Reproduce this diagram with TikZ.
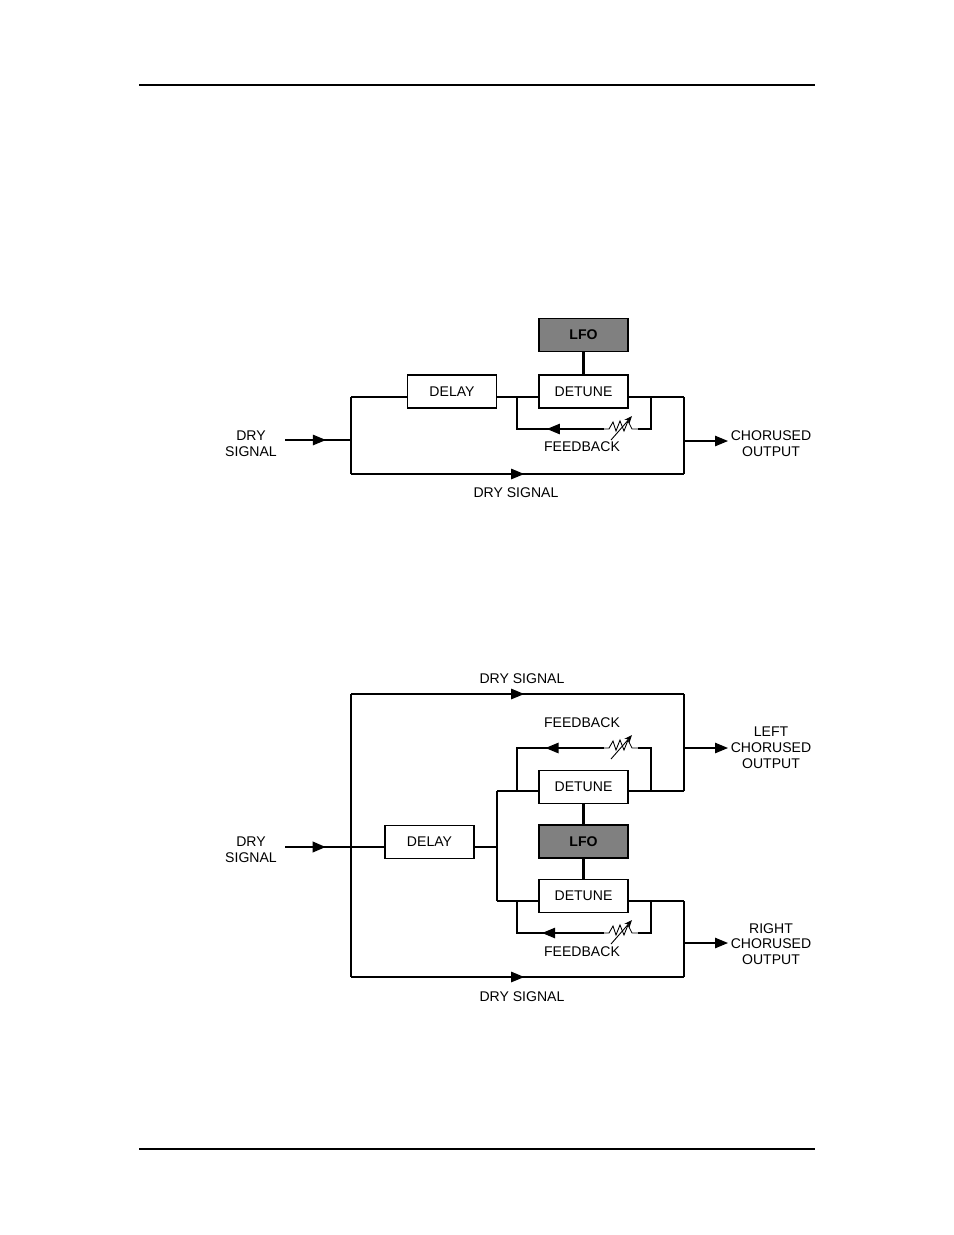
\documentclass[tikz,border=0pt]{standalone}
\usepackage{fontspec}
\setmainfont{Liberation Sans}
\usetikzlibrary{arrows.meta,decorations.markings}
\definecolor{ink}{RGB}{0,0,0}
\tikzset{
  >={Triangle[length=2.6mm,width=2.1mm]},
  block/.style={draw=ink,line width=0.9pt,minimum width=1.78cm,minimum height=0.66cm,
    inner sep=0pt,font=\fontsize{8}{9}\selectfont},
  lfo/.style={block,fill=ink!50,line width=1.1pt,font=\fontsize{8}{9}\selectfont\bfseries},
  sig/.style={draw=ink,line width=1.2pt},
  wire/.style={draw=ink,line width=0.6pt},
  tag/.style={font=\fontsize{8}{9}\selectfont,align=center,inner sep=0pt},
  mid arrow/.style={postaction={decorate},
    decoration={markings,mark=at position #1 with {\arrow{>}}}},
  % variable resistor
  pics/resistor/.style={code={
    \draw[wire,line width=0.5pt] (-17,0) -- (-12,0) -- (-8,-7) -- (-5,2) -- (-1,-8) -- (3,2) -- (7,-8) -- (11,0) -- (17,0);
    \draw[wire,line width=0.5pt,-{Stealth[length=1.6mm,width=1.3mm]}] (-10,11) -- (11,-13);
  }},
}
\begin{document}
\begin{tikzpicture}[x=0.02cm,y=-0.02cm]
  \useasboundingbox (0,0) rectangle (954,1235);
  % page rules
  \draw[line width=1.4pt] (139,85) -- (815,85);
  \draw[line width=0.6pt] (139,1149) -- (815,1149);

  % ---- chorus, mono
  \node[lfo] (lfoA) at (583.5,335) {LFO};
  \node[block] (detA) at (583.5,391.5) {DETUNE};
  \node[block] (delA) at (452,391.5) {DELAY};
  \coordinate (inA) at (285,440);
  \coordinate (jA) at (351,440);
  \coordinate (tlA) at (351,397);
  \coordinate (blA) at (351,474);
  \coordinate (trA) at (684,397);
  \coordinate (brA) at (684,474);
  \coordinate (oA) at (684,441);
  \coordinate (outA) at (728,441);
  \coordinate (fbA1) at (517,397);
  \coordinate (fbA2) at (651,397);
  \coordinate (rAw) at (604,429);
  \coordinate (rAe) at (638,429);
  \pic at (621,429) {resistor};

  \draw[sig] (tlA) -- (delA.west |- tlA);
  \draw[sig] (delA.east |- tlA) -- (detA.west |- tlA);
  \draw[sig] (detA.east |- tlA) -- (trA);
  \draw[sig] (lfoA.south) -- (detA.north);
  \draw[wire,mid arrow=0.62] (inA) -- (jA);
  \draw[wire] (tlA) -- (blA);
  \draw[wire,mid arrow=0.52] (blA) -- (brA);
  \draw[wire] (trA) -- (brA);
  \draw[wire,->] (oA) -- (outA);
  \draw[wire] (fbA2) |- (rAe);
  \draw[wire,mid arrow=0.48] (rAw) -| (fbA1);

  \node[tag] (dryA) at (251,444) {DRY\\SIGNAL};
  \node[tag] (choA) at (771,444) {CHORUSED\\OUTPUT};
  \node[tag] (fbtA) at (582,447) {FEEDBACK};
  \node[tag] (drybA) at (516,493) {DRY SIGNAL};

  % ---- chorus, stereo
  \node[block] (delB) at (429.5,842) {DELAY};
  \node[block] (detB1) at (583.5,787) {DETUNE};
  \node[lfo] (lfoB) at (583.5,841.5) {LFO};
  \node[block] (detB2) at (583.5,896) {DETUNE};
  \coordinate (inB) at (285,847);
  \coordinate (tlB) at (351,694);
  \coordinate (trB) at (684,694);
  \coordinate (blB) at (351,977);
  \coordinate (brB) at (684,977);
  \coordinate (sB) at (497,847);
  \coordinate (uB) at (497,791);
  \coordinate (dB) at (497,901);
  \coordinate (ruB) at (684,791);
  \coordinate (rdB) at (684,901);
  \coordinate (oLB) at (684,748);
  \coordinate (outLB) at (728,748);
  \coordinate (oRB) at (684,943);
  \coordinate (outRB) at (728,943);
  \coordinate (fbB1) at (517,791);
  \coordinate (fbB2) at (651,791);
  \coordinate (fbB3) at (517,901);
  \coordinate (fbB4) at (651,901);
  \coordinate (rBw) at (604,748);
  \coordinate (rBe) at (638,748);
  \coordinate (rCw) at (604,933);
  \coordinate (rCe) at (638,933);
  \pic at (621,748) {resistor};
  \pic at (621,933) {resistor};

  \draw[sig,mid arrow=0.41] (inB) -- (delB.west |- inB);
  \draw[sig] (delB.east |- inB) -- (sB);
  \draw[sig] (uB) -- (dB);
  \draw[sig] (uB) -- (detB1.west |- uB);
  \draw[sig] (dB) -- (detB2.west |- dB);
  \draw[sig] (detB1.east |- uB) -- (ruB);
  \draw[sig] (detB2.east |- dB) -- (rdB);
  \draw[sig] (detB1.south) -- (lfoB.north);
  \draw[sig] (lfoB.south) -- (detB2.north);
  \draw[wire] (tlB) -- (blB);
  \draw[wire,mid arrow=0.52] (tlB) -- (trB);
  \draw[wire] (trB) -- (ruB);
  \draw[wire,mid arrow=0.52] (blB) -- (brB);
  \draw[wire] (rdB) -- (brB);
  \draw[wire,->] (oLB) -- (outLB);
  \draw[wire,->] (oRB) -- (outRB);
  \draw[wire] (fbB2) |- (rBe);
  \draw[wire,mid arrow=0.45] (rBw) -| (fbB1);
  \draw[wire] (fbB4) |- (rCe);
  \draw[wire,mid arrow=0.52] (rCw) -| (fbB3);

  \node[tag] (drytB) at (522,679) {DRY SIGNAL};
  \node[tag] (fbtB1) at (582,723) {FEEDBACK};
  \node[tag] (leftB) at (771,748) {LEFT\\CHORUSED\\OUTPUT};
  \node[tag] (rightB) at (771,944) {RIGHT\\CHORUSED\\OUTPUT};
  \node[tag] (dryB) at (251,850) {DRY\\SIGNAL};
  \node[tag] (fbtB2) at (582,952) {FEEDBACK};
  \node[tag] (drybB) at (522,997) {DRY SIGNAL};
\end{tikzpicture}
\end{document}
